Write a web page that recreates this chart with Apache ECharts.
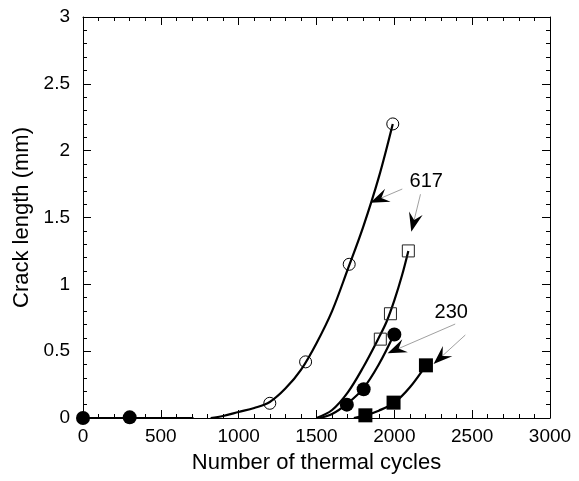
<!DOCTYPE html>
<html>
<head>
<meta charset="utf-8">
<script src="https://cdn.jsdelivr.net/npm/echarts@6/dist/echarts.min.js"></script>
<style>
html,body{margin:0;padding:0;background:#fff;}
#c{width:579px;height:481px;}
</style>
</head>
<body>
<div id="c"></div>
<script>
// ---- data ----
const xTickLabels = [0, 500, 1000, 1500, 2000, 2500, 3000];
const yTickLabels = [0, 0.5, 1, 1.5, 2, 2.5, 3];

// open circles
const openCircleX = [1200, 1430, 1710, 1990];
const openCircleY = [0.11, 0.42, 1.15, 2.2];
// open squares
const openSquareX = [1910, 1975, 2090];
const openSquareY = [0.59, 0.78, 1.25];
// filled circles
const filledCircleX = [0, 300, 1695, 1803, 2000];
const filledCircleY = [0, 0.005, 0.1, 0.215, 0.625];
// filled squares
const filledSquareX = [1814, 1995, 2203];
const filledSquareY = [0.02, 0.115, 0.394];

// fitted curves
const curveAX = [820, 900, 1000, 1100, 1200, 1300, 1400, 1500, 1600, 1700, 1800, 1900, 1990];
const curveAY = [0, 0.015, 0.045, 0.075, 0.12, 0.22, 0.36, 0.56, 0.8, 1.11, 1.43, 1.8, 2.2];
const curveBX = [1500, 1600, 1700, 1800, 1900, 1950, 2000, 2050, 2090];
const curveBY = [0, 0.06, 0.19, 0.38, 0.6, 0.72, 0.88, 1.07, 1.25];
const curveCX = [1520, 1600, 1700, 1800, 1900, 2000];
const curveCY = [0, 0.03, 0.11, 0.22, 0.4, 0.63];
const curveDX = [1740, 1813, 1900, 2000, 2100, 2203];
const curveDY = [0, 0.02, 0.055, 0.115, 0.23, 0.394];
const flatX = [0, 300, 710];
const flatY = [0, 0, 0];

// annotations: leader start (x,y) -> arrow tip (x,y)
const arrowStartX = [2051, 2168, 2391, 2456];
const arrowStartY = [1.713, 1.674, 0.703, 0.621];
const arrowTipX = [1846, 2109, 1957, 2252];
const arrowTipY = [1.611, 1.394, 0.484, 0.404];
const noteText = ['617', '230'];
const noteX = [2205, 2366];
const noteY = [1.766, 0.793];

const zip = (xs, ys) => xs.map((x, i) => [x, ys[i]]);

const FONT = 'Liberation Sans, Arial, sans-serif';
const chart = echarts.init(document.getElementById('c'), null, {renderer: 'canvas'});

function axisCommon(showLabels) {
  return {
    axisLine: {show: true, onZero: false, lineStyle: {color: '#000', width: 1}},
    axisTick: {show: true, inside: true, length: 8, lineStyle: {color: '#000', width: 1}},
    minorTick: {show: true, splitNumber: 5, length: 4, lineStyle: {color: '#000', width: 1}},
    splitLine: {show: false},
    minorSplitLine: {show: false},
    axisLabel: {show: showLabels, color: '#000', fontSize: 19, fontFamily: FONT}
  };
}

const lineStyle = {color: '#000', width: 2.2};
function curve(xs, ys) {
  return {type: 'line', data: zip(xs, ys), smooth: 0.35, showSymbol: false, symbol: 'none',
    lineStyle: lineStyle, z: 2, silent: true};
}

const arrowData = arrowTipX.map((x, i) => [arrowStartX[i], arrowStartY[i], x, arrowTipY[i]]);
const noteData = noteText.map((t, i) => [noteX[i], noteY[i], t]);

chart.setOption({
  animation: false,
  backgroundColor: '#fff',
  grid: {left: 83, right: 29, top: 17, bottom: 63, containLabel: false, outerBoundsMode: 'none'},
  xAxis: [
    Object.assign({type: 'value', min: 0, max: 3000, interval: 500, position: 'bottom',
      name: 'Number of thermal cycles', nameLocation: 'middle', nameGap: 34,
      nameTextStyle: {color: '#000', fontSize: 22, fontFamily: FONT}}, axisCommon(true),
      {axisLabel: {show: true, color: '#000', fontSize: 19, fontFamily: FONT, margin: 9,
        formatter: v => xTickLabels.includes(v) ? String(v) : ''}}),
    Object.assign({type: 'value', min: 0, max: 3000, interval: 500, position: 'top'}, axisCommon(false))
  ],
  yAxis: [
    Object.assign({type: 'value', min: 0, max: 3, interval: 0.5, position: 'left',
      name: 'Crack length (mm)', nameLocation: 'middle', nameGap: 47, nameRotate: 90,
      nameTextStyle: {color: '#000', fontSize: 22, fontFamily: FONT}}, axisCommon(true),
      {axisLabel: {show: true, color: '#000', fontSize: 19, fontFamily: FONT, margin: 13,
        formatter: v => yTickLabels.includes(v) ? String(v) : ''}}),
    Object.assign({type: 'value', min: 0, max: 3, interval: 0.5, position: 'right'}, axisCommon(false))
  ],
  series: [
    curve(flatX, flatY),
    curve(curveAX, curveAY),
    curve(curveBX, curveBY),
    curve(curveCX, curveCY),
    curve(curveDX, curveDY),
    {type: 'scatter', data: zip(openCircleX, openCircleY), symbol: 'circle', symbolSize: 12, z: 5,
      itemStyle: {color: 'rgba(0,0,0,0)', borderColor: '#000', borderWidth: 1, opacity: 1}},
    {type: 'scatter', data: zip(openSquareX, openSquareY), symbol: 'rect', symbolSize: 12, z: 5,
      itemStyle: {color: 'rgba(0,0,0,0)', borderColor: '#222', borderWidth: 1, opacity: 1}},
    {type: 'scatter', data: zip(filledCircleX, filledCircleY), symbol: 'circle', symbolSize: 14, z: 5,
      itemStyle: {color: '#000', opacity: 1}},
    {type: 'scatter', data: zip(filledSquareX, filledSquareY), symbol: 'rect', symbolSize: 14, z: 5,
      itemStyle: {color: '#000', opacity: 1}},
    {
      type: 'custom', data: arrowData, z: 6, silent: true, clip: false,
      renderItem: function (params, api) {
        const s = api.coord([api.value(0), api.value(1)]);
        const t = api.coord([api.value(2), api.value(3)]);
        let dx = t[0] - s[0], dy = t[1] - s[1];
        const len = Math.sqrt(dx * dx + dy * dy);
        const ux = dx / len, uy = dy / len;
        const nx = -uy, ny = ux;
        const L = 19, W = 7, N = 12;
        const back = [t[0] - L * ux, t[1] - L * uy];
        const notch = [t[0] - N * ux, t[1] - N * uy];
        return {
          type: 'group',
          children: [
            {type: 'line', shape: {x1: s[0], y1: s[1], x2: notch[0], y2: notch[1]},
              style: {stroke: '#888', lineWidth: 0.8}},
            {type: 'polygon', shape: {points: [
              t, [back[0] + W * nx, back[1] + W * ny], notch, [back[0] - W * nx, back[1] - W * ny]]},
              style: {fill: '#000'}}
          ]
        };
      }
    },
    {
      type: 'custom', data: noteData, z: 6, silent: true, clip: false,
      renderItem: function (params, api) {
        const p = api.coord([api.value(0), api.value(1)]);
        return {type: 'text', x: p[0], y: p[1],
          style: {text: noteText[params.dataIndex], fill: '#000', fontSize: 20, fontFamily: FONT,
            align: 'center', verticalAlign: 'middle'}};
      }
    }
  ]
});
</script>
</body>
</html>
